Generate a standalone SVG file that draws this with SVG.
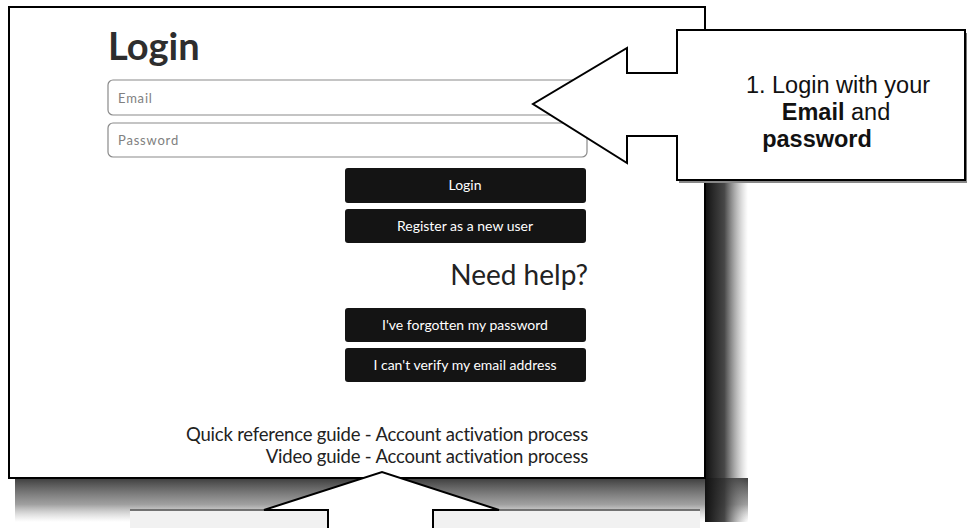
<svg xmlns="http://www.w3.org/2000/svg" width="967" height="528" viewBox="0 0 967 528">
<style>
.ui{font-family:Lato,"Liberation Sans",sans-serif}
.btn{fill:#141414}
.btxt{font-family:Lato,"Liberation Sans",sans-serif;font-size:14px;fill:#fff;text-anchor:middle}
.field{fill:#fff;stroke:#8a8a8a;stroke-width:1.2}
.ph{font-family:Lato,"Liberation Sans",sans-serif;font-size:13px;fill:#808080;letter-spacing:0.8px}
.link{font-family:Lato,"Liberation Sans",sans-serif;font-size:18.5px;fill:#222;text-anchor:end;letter-spacing:-0.2px}
.call{font-family:"Liberation Sans",Arial,sans-serif;font-size:23.5px;fill:#111;text-anchor:middle}
.edge{fill:#fff;stroke:#000;stroke-width:2;stroke-linejoin:miter}
.faint{fill:#f1f1f1;stroke:none}
.fline{stroke:#555;stroke-width:1.5;fill:none}
</style>
<defs>
<linearGradient id="shR" x1="0" y1="0" x2="1" y2="0">
<stop offset="0" stop-color="#111" stop-opacity="1"/>
<stop offset="0.45" stop-color="#333" stop-opacity="0.9"/>
<stop offset="1" stop-color="#888" stop-opacity="0"/>
</linearGradient>
<linearGradient id="shB" x1="0" y1="0" x2="0" y2="1">
<stop offset="0" stop-color="#333" stop-opacity="0.95"/>
<stop offset="0.6" stop-color="#777" stop-opacity="0.7"/>
<stop offset="1" stop-color="#aaa" stop-opacity="0"/>
</linearGradient>
</defs>

<g id="shadow">
<rect x="15" y="478" width="733" height="44" fill="url(#shB)"/>
<rect x="705" y="180" width="43" height="342" fill="url(#shR)"/>
</g>

<g id="panel">
<rect x="9" y="7" width="696" height="471" fill="#fff" stroke="#000" stroke-width="2"/>
<text x="108" y="60" class="ui" font-size="38" font-weight="bold" fill="#2e2e2e">Login</text>
<rect class="field" x="108" y="80" width="479" height="35" rx="5"/>
<text class="ph" x="118" y="103">Email</text>
<rect class="field" x="108" y="123" width="479" height="34" rx="5"/>
<text class="ph" x="118" y="145">Password</text>
</g>

<g id="btn-login"><rect class="btn" x="345" y="168" width="241" height="35" rx="3"/><text class="btxt" x="465" y="190">Login</text></g>
<g id="btn-register"><rect class="btn" x="345" y="209" width="241" height="34" rx="3"/><text class="btxt" x="465" y="231">Register as a new user</text></g>
<g id="need-help"><text x="588" y="285" class="ui" font-size="28" fill="#222" text-anchor="end">Need help?</text></g>
<g id="btn-forgot"><rect class="btn" x="345" y="308" width="241" height="34" rx="3"/><text class="btxt" x="465" y="330">I've forgotten my password</text></g>
<g id="btn-verify"><rect class="btn" x="345" y="348" width="241" height="34" rx="3"/><text class="btxt" x="465" y="370">I can't verify my email address</text></g>
<g id="link-quick"><text class="link" x="588" y="441">Quick reference guide - Account activation process</text></g>
<g id="link-video"><text class="link" x="588" y="463">Video guide - Account activation process</text></g>

<g id="callout-1">
<rect x="966" y="33" width="2" height="150" fill="#777"/>
<rect x="679" y="180" width="288" height="3" fill="#888"/>
<path class="edge" d="M677,30 H965 V180 H677 V136 H627 V163 L533,104 L627,48 V73 H677 Z"/>
<text class="call" x="838" y="93">1. Login with your</text>
<text class="call" x="836" y="120"><tspan font-weight="bold">Email</tspan> and</text>
<text class="call" x="817" y="147" font-weight="bold">password</text>
</g>

<g id="callout-2">
<rect class="faint" x="130" y="511" width="198" height="17"/>
<rect class="faint" x="433" y="511" width="267" height="17"/>
<path class="fline" d="M130,510 H264 M499,510 H700"/>
<path class="edge" d="M328,530 V510 H264 L382,472 L499,510 H433 V530"/>
</g>
</svg>
